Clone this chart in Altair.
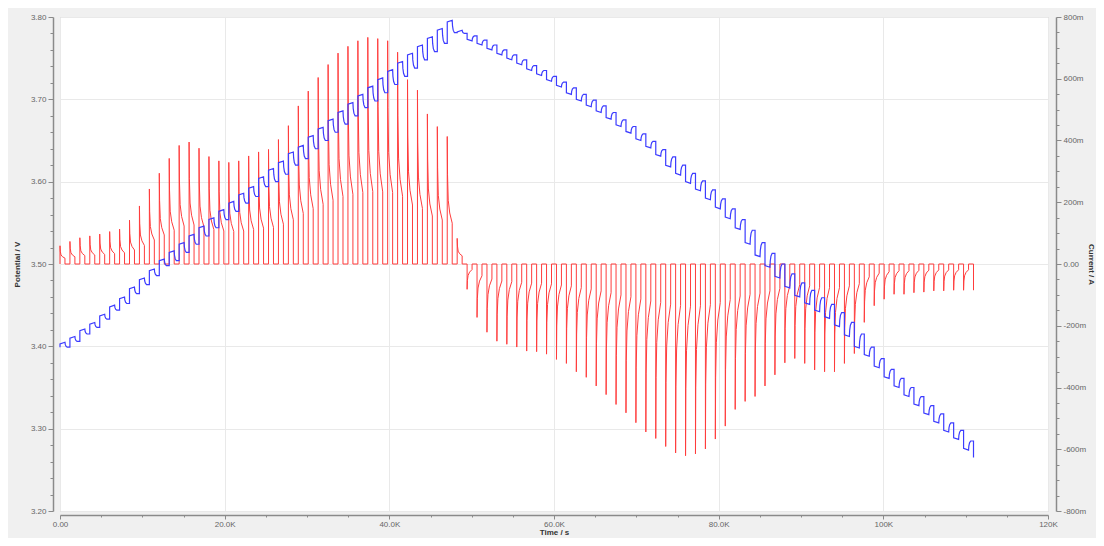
import altair as alt
import pandas as pd

# ---------------- data ----------------
PERIOD = 1206.0  # s, one pulse + rest

# red trace (current, A): peak of each charge pulse (index 0..40)
pos_peak = [0.059, 0.073, 0.085, 0.091, 0.097, 0.105, 0.113, 0.142, 0.188, 0.243,
            0.294, 0.342, 0.384, 0.395, 0.375, 0.348, 0.334, 0.329, 0.334, 0.350,
            0.363, 0.371, 0.403, 0.448, 0.512, 0.560, 0.604, 0.646, 0.683, 0.705,
            0.723, 0.734, 0.730, 0.723, 0.686, 0.597, 0.563, 0.486, 0.445, 0.413,
            0.083]
# red trace: minimum of each discharge pulse (index 41..92)
neg_min = [-0.082, -0.173, -0.221, -0.250, -0.260, -0.269, -0.282, -0.284, -0.292, -0.309,
           -0.322, -0.349, -0.367, -0.395, -0.423, -0.455, -0.482, -0.514, -0.544, -0.565,
           -0.591, -0.612, -0.621, -0.615, -0.599, -0.567, -0.525, -0.471, -0.445, -0.429,
           -0.395, -0.359, -0.320, -0.306, -0.322, -0.343, -0.349, -0.349, -0.322, -0.290,
           -0.189, -0.135, -0.114, -0.098, -0.098, -0.093, -0.091, -0.087, -0.087, -0.085,
           -0.085, -0.085]
# pulse shape (fraction of period, fraction of peak)
pos_shape_t = [0.0, 0.0, 0.03, 0.10, 0.25, 0.50, 0.50]
pos_shape_f = [0.0, 1.0, 0.70, 0.50, 0.40, 0.32, 0.0]
neg_shape_t = [0.0, 0.0, 0.03, 0.10, 0.25, 0.50, 0.50]
neg_shape_f = [0.0, 1.0, 0.65, 0.45, 0.32, 0.22, 0.0]

# blue trace (potential, V)
start_v = 3.399
charge_top = [3.405, 3.412, 3.421, 3.429, 3.439, 3.450, 3.460, 3.472, 3.483, 3.494,
              3.506, 3.516, 3.526, 3.536, 3.546, 3.556, 3.566, 3.576, 3.586, 3.594,
              3.606, 3.616, 3.625, 3.636, 3.644, 3.656, 3.666, 3.676, 3.686, 3.696,
              3.706, 3.716, 3.726, 3.736, 3.746, 3.756, 3.766, 3.776, 3.786, 3.796,
              3.784]
charge_rest = [3.399, 3.406, 3.415, 3.423, 3.433, 3.444, 3.452, 3.464, 3.475, 3.486,
               3.498, 3.504, 3.514, 3.524, 3.534, 3.544, 3.554, 3.564, 3.574, 3.582,
               3.594, 3.600, 3.609, 3.620, 3.628, 3.640, 3.650, 3.660, 3.670, 3.680,
               3.690, 3.698, 3.708, 3.718, 3.728, 3.738, 3.748, 3.758, 3.768, 3.781,
               3.780]
dis_low = [3.771, 3.766, 3.760, 3.754, 3.748, 3.742, 3.735, 3.729, 3.722, 3.715,
           3.706, 3.698, 3.691, 3.684, 3.676, 3.667, 3.659, 3.650, 3.641, 3.631,
           3.618, 3.608, 3.598, 3.589, 3.578, 3.567, 3.555, 3.542, 3.524, 3.509,
           3.496, 3.483, 3.471, 3.460, 3.451, 3.442, 3.434, 3.424, 3.412, 3.398,
           3.388, 3.374, 3.361, 3.350, 3.339, 3.328, 3.317, 3.307, 3.296, 3.287,
           3.274, 3.265]
dis_rest = [3.777, 3.772, 3.766, 3.760, 3.754, 3.748, 3.741, 3.735, 3.728, 3.721,
            3.714, 3.706, 3.699, 3.692, 3.684, 3.675, 3.667, 3.658, 3.649, 3.639,
            3.630, 3.620, 3.610, 3.601, 3.590, 3.579, 3.567, 3.554, 3.541, 3.526,
            3.513, 3.500, 3.488, 3.477, 3.468, 3.459, 3.451, 3.441, 3.429, 3.415,
            3.399, 3.385, 3.372, 3.361, 3.350, 3.339, 3.328, 3.318, 3.307, 3.298,
            3.285]
relax_t = [0.53, 0.60, 0.72]
relax_f = [0.45, 0.80, 1.0]

# ---------------- build tables ----------------
red_rows = []
def add_red(t, v):
    red_rows.append({"t": t, "cur": v, "seq": len(red_rows)})

for i, pk in enumerate(pos_peak):
    t0 = i * PERIOD
    for tf, vf in zip(pos_shape_t, pos_shape_f):
        add_red(t0 + tf * PERIOD, pk * vf)
for j, mn in enumerate(neg_min):
    t0 = (41 + j) * PERIOD
    pts = list(zip(neg_shape_t, neg_shape_f))
    if j == len(neg_min) - 1:
        pts = pts[:2]
    for tf, vf in pts:
        add_red(t0 + tf * PERIOD, mn * vf)

blue_rows = []
def add_blue(t, v):
    blue_rows.append({"t": t, "pot": v, "seq": len(blue_rows)})

prev = start_v
for i, (hi, lo) in enumerate(zip(charge_top, charge_rest)):
    t0 = i * PERIOD
    add_blue(t0, prev)
    add_blue(t0, hi - 0.002)
    add_blue(t0 + 0.5 * PERIOD, hi)
    for tf, f in zip(relax_t, relax_f):
        add_blue(t0 + tf * PERIOD, hi + (lo - hi) * f)
    prev = lo
for j, lo in enumerate(dis_low):
    t0 = (41 + j) * PERIOD
    add_blue(t0, prev)
    if j == len(dis_low) - 1:
        add_blue(t0, lo)
        break
    rest = dis_rest[j]
    add_blue(t0, lo + 0.002)
    add_blue(t0 + 0.5 * PERIOD, lo)
    for tf, f in zip(relax_t, relax_f):
        add_blue(t0 + tf * PERIOD, lo + (rest - lo) * f)
    prev = rest

red_df = pd.DataFrame(red_rows)
blue_df = pd.DataFrame(blue_rows)

# ---------------- axes ----------------
FONT = "Liberation Sans"
AX_COL = "#8a8a8a"
LAB_COL = "#666666"

x_major = "datum.value % 20000 == 0"
x_axis = alt.Axis(
    values=[k * 5000 for k in range(25)],
    labelExpr=("datum.value % 20000 != 0 ? '' : (datum.value == 0 ? '0.00' : "
               "(datum.value < 100000 ? format(datum.value/1000, '.1f') + 'K' : "
               "format(datum.value/1000, 'd') + 'K'))"),
    tickSize={"condition": {"test": x_major, "value": 4}, "value": 2},
    grid=True, gridColor="#e9e9e9",
    gridOpacity={"condition": {"test": x_major, "value": 1}, "value": 0},
    offset=4, domainColor=AX_COL, domainWidth=1.5, tickColor=AX_COL,
    labelFont=FONT, labelFontSize=8, labelColor=LAB_COL, labelPadding=1,
    labelOverlap=False, labelFlush=False,
    title="Time / s", titleFont=FONT, titleFontSize=8, titleFontWeight="bold",
    titleColor="#333333", titlePadding=0,
)

v_major = "abs(datum.value*10 - round(datum.value*10)) < 0.001"
left_axis = alt.Axis(
    orient="left",
    values=[round(3.2 + 0.02 * k, 2) for k in range(31)],
    labelExpr=f"{v_major} ? format(datum.value, '.2f') : ''",
    tickSize={"condition": {"test": v_major, "value": 5}, "value": 3},
    grid=True, gridColor="#e9e9e9",
    gridOpacity={"condition": {"test": v_major, "value": 1}, "value": 0},
    offset=7, domainColor=AX_COL, domainWidth=1.5, tickColor=AX_COL,
    labelFont=FONT, labelFontSize=8, labelColor=LAB_COL, labelPadding=2,
    labelOverlap=False, labelFlush=False,
    title="Potential / V", titleFont=FONT, titleFontSize=8, titleFontWeight="bold",
    titleColor="#333333", titlePadding=9,
)

i_major = "abs(datum.value*5 - round(datum.value*5)) < 0.001"
right_axis = alt.Axis(
    orient="right",
    values=[round(-0.8 + 0.05 * k, 2) for k in range(33)],
    labelExpr=(f"{i_major} ? (abs(datum.value) < 0.001 ? '0.00' : "
               "(datum.value < 0 ? '-' : '') + format(abs(datum.value)*1000, 'd') + 'm') : ''"),
    tickSize={"condition": {"test": i_major, "value": 5}, "value": 3},
    grid=False,
    offset=8, domainColor=AX_COL, domainWidth=1.5, tickColor=AX_COL,
    labelFont=FONT, labelFontSize=8, labelColor=LAB_COL, labelPadding=2,
    labelOverlap=False, labelFlush=False,
    title="Current / A", titleFont=FONT, titleFontSize=8, titleFontWeight="bold",
    titleColor="#333333", titlePadding=1,
)

xenc = alt.X("t:Q", scale=alt.Scale(domain=[0, 120000], nice=False, zero=False), axis=x_axis)

red = alt.Chart(red_df).mark_line(color="#ff3c3c", strokeWidth=1).encode(
    x=xenc,
    y=alt.Y("cur:Q", scale=alt.Scale(domain=[-0.8, 0.8], nice=False, zero=False), axis=right_axis),
    order=alt.Order("seq:Q"),
)
blue = alt.Chart(blue_df).mark_line(color="#3c3cff", strokeWidth=1.2).encode(
    x=xenc,
    y=alt.Y("pot:Q", scale=alt.Scale(domain=[3.2, 3.8], nice=False, zero=False), axis=left_axis),
    order=alt.Order("seq:Q"),
)

chart = (
    alt.layer(red, blue)
    .resolve_scale(y="independent")
    .properties(
        width=988, height=494,
        autosize=alt.AutoSizeParams(type="none"),
        padding={"left": 52, "top": 9, "right": 48, "bottom": 27},
        background="#f0f0f0",
    )
    .configure_view(fill="white", stroke="#c8c8c8", strokeWidth=1)
)

chart.save("out.html", embed_options={"renderer": "svg", "actions": False})
